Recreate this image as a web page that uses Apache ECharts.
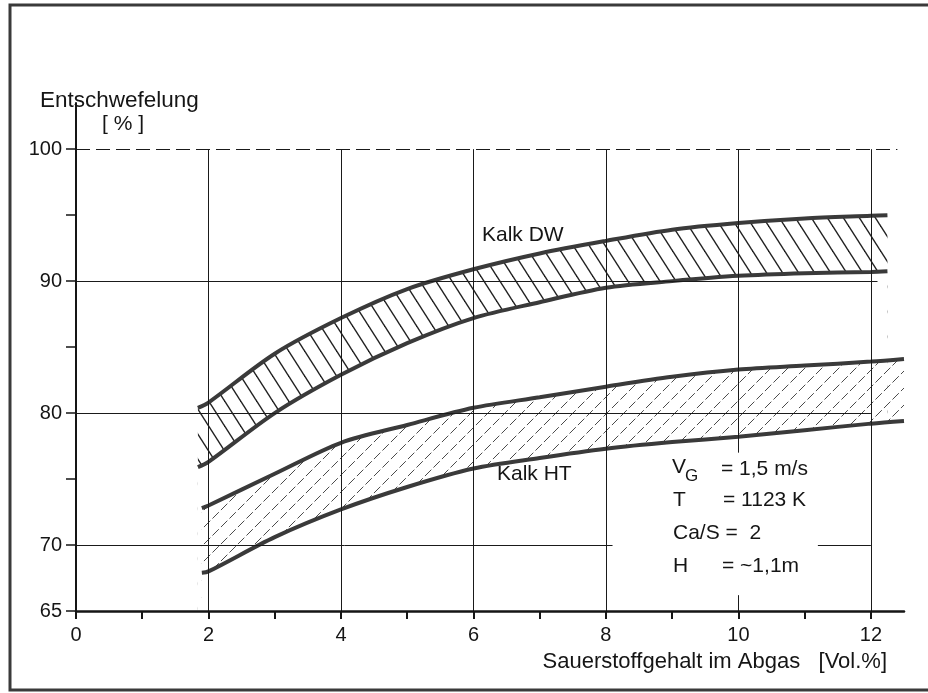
<!DOCTYPE html>
<html>
<head>
<meta charset="utf-8">
<script src="https://cdn.jsdelivr.net/npm/echarts@6/dist/echarts.min.js"></script>
<style>
  html, body { margin: 0; padding: 0; background: #fff; }
  #chart { width: 928px; height: 693px; }
</style>
</head>
<body>
<div id="chart"></div>
<script>
// Entschwefelung über Sauerstoffgehalt, Kalk DW / Kalk HT
const xTicks = [0, 1, 2, 3, 4, 5, 6, 7, 8, 9, 10, 11, 12];
const xLabels = [0, 2, 4, 6, 8, 10, 12];
const yTicks = [65, 70, 75, 80, 85, 90, 95, 100];
const yLabels = [65, 70, 80, 90, 100];

// Kalk DW band
const dwX = [1.84, 2, 3, 4, 5, 6, 7, 8, 9, 10, 11, 12, 12.25];
const dwUpper = [80.4, 80.8, 84.5, 87.2, 89.4, 90.9, 92.1, 93.05, 93.9, 94.4, 94.75, 94.95, 95.0];
const dwLower = [75.9, 76.3, 80.0, 82.9, 85.3, 87.2, 88.4, 89.5, 90.0, 90.4, 90.6, 90.7, 90.75];

// Kalk HT band
const htX = [1.9, 2, 3, 4, 5, 6, 7, 8, 9, 10, 11, 12, 12.5];
const htUpper = [72.8, 73.0, 75.4, 77.75, 79.1, 80.4, 81.2, 82.0, 82.75, 83.3, 83.6, 83.9, 84.1];
const htLower = [67.9, 68.0, 70.6, 72.7, 74.4, 75.8, 76.6, 77.3, 77.8, 78.2, 78.7, 79.2, 79.4];

// Gitterlinien: [x, yVon, yBis] bzw. [y, xVon, xBis]
const gridV = [[2, 65, 100], [4, 65, 100], [6, 65, 100], [8, 65, 100], [10, 77, 100], [10, 65, 66.2], [12, 65, 100]];
const gridH = [[70, 0, 8.1], [70, 11.2, 12], [80, 0, 12], [90, 0, 12.1]];
const gridDashed = [[100, 0, 12.4]];

const FONT = '"Liberation Sans", Arial, sans-serif';
const INK = '#151515';

function zip(xs, ys) {
  return xs.map(function (x, i) { return [x, ys[i]]; });
}

// Schraffur als Kachel
function hatch(w, h, dir, color, lw, dash) {
  const c = document.createElement('canvas');
  c.width = w;
  c.height = h;
  const g = c.getContext('2d');
  g.strokeStyle = color;
  g.lineWidth = lw;
  if (dash) g.setLineDash(dash);
  for (let k = -1; k <= 1; k++) {
    g.beginPath();
    if (dir === 'back') {
      g.moveTo(k * w - w, -h);
      g.lineTo(k * w + 2 * w, 2 * h);
    } else {
      g.moveTo(k * w - w, 2 * h);
      g.lineTo(k * w + 2 * w, -h);
    }
    g.stroke();
  }
  return c;
}

const dwPattern = { image: hatch(16, 25, 'back', '#202020', 1.4), repeat: 'repeat' };
const htPattern = { image: hatch(17, 17, 'fwd', '#4a4a4a', 1, [9, 3]), repeat: 'repeat' };

const curveLine = { color: '#3a3a3a', width: 4 };

function bandSeries(xs, ys, fill) {
  return {
    type: 'line',
    data: zip(xs, ys),
    smooth: 0.3,
    symbol: 'none',
    silent: true,
    lineStyle: curveLine,
    areaStyle: { color: fill, opacity: 1, origin: 'start' },
    z: 2
  };
}

function label(x, y, text, size, extra) {
  let style = { text: text, font: size + 'px ' + FONT, fill: INK, verticalAlign: 'middle' };
  if (extra) Object.assign(style, extra);
  return { type: 'text', x: x, y: y, z: 50, silent: true, style: style };
}

let option = {
  backgroundColor: '#fff',
  animation: false,
  grid: { left: 76, right: 24, top: 103, bottom: 82 },
  xAxis: {
    type: 'value',
    min: 0,
    max: 12.5,
    z: 10,
    axisLine: { show: true, lineStyle: { color: INK, width: 2.5 } },
    axisTick: { show: true, customValues: xTicks, length: 8, lineStyle: { color: INK, width: 2 } },
    axisLabel: { customValues: xLabels, margin: 14, color: INK, fontSize: 20, fontFamily: FONT },
    splitLine: { show: false }
  },
  yAxis: {
    type: 'value',
    min: 65,
    max: 103.5,
    z: 10,
    axisLine: { show: true, lineStyle: { color: INK, width: 2 } },
    axisTick: { show: true, customValues: yTicks, length: 10, lineStyle: { color: INK, width: 1.5 } },
    axisLabel: { customValues: yLabels, margin: 14, color: INK, fontSize: 20, fontFamily: FONT },
    splitLine: { show: false }
  },
  series: [
    // Kalk DW: Schraffur bis zur oberen Kurve, darunter weiss abdecken
    bandSeries(dwX, dwUpper, dwPattern),
    bandSeries(dwX, dwLower, '#fff'),
    // Kalk HT
    bandSeries(htX, htUpper, htPattern),
    bandSeries(htX, htLower, '#fff'),
    {
      type: 'lines',
      coordinateSystem: 'cartesian2d',
      silent: true,
      z: 5,
      lineStyle: { color: '#1a1a1a', width: 1, opacity: 1 },
      data: gridV.map(function (g) { return { coords: [[g[0], g[1]], [g[0], g[2]]] }; })
        .concat(gridH.map(function (g) { return { coords: [[g[1], g[0]], [g[2], g[0]]] }; }))
    },
    {
      type: 'lines',
      coordinateSystem: 'cartesian2d',
      silent: true,
      z: 5,
      lineStyle: { color: '#1a1a1a', width: 1.2, opacity: 1, type: [14, 6] },
      data: gridDashed.map(function (g) { return { coords: [[g[1], g[0]], [g[2], g[0]]] }; })
    }
  ],
  graphic: [
    {
      type: 'rect', silent: true, z: 100,
      shape: { x: 10, y: 5, width: 940, height: 685 },
      style: { fill: 'none', stroke: '#3a3a3a', lineWidth: 3 }
    },
    label(40, 101, 'Entschwefelung', 22.5),
    label(102, 124, '[ % ]', 21),
    label(887, 662, 'Sauerstoffgehalt im Abgas   [Vol.%]', 22, { align: 'right' }),
    label(482, 235, 'Kalk DW', 21),
    label(497, 474, 'Kalk HT', 21),
    // Versuchsbedingungen
    label(672, 467, 'V', 21),
    label(685, 476, 'G', 17),
    label(721, 469, '= 1,5 m/s', 21),
    label(673, 500, 'T', 21),
    label(723, 500, '= 1123 K', 21),
    label(673, 533, 'Ca/S =  2', 21),
    label(673, 566, 'H', 21),
    label(722, 566, '= ~1,1m', 21)
  ]
};

let chart = echarts.init(document.getElementById('chart'), null, { renderer: 'canvas' });
chart.setOption(option);
</script>
</body>
</html>
